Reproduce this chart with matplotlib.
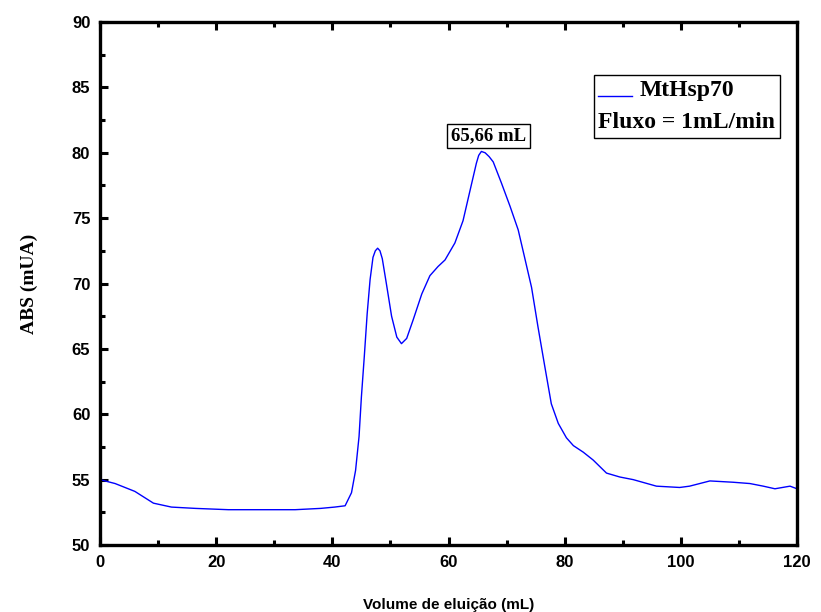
import matplotlib
matplotlib.use("Agg")
import matplotlib.pyplot as plt
from matplotlib.ticker import MultipleLocator
from matplotlib.offsetbox import AnchoredOffsetbox, TextArea, DrawingArea, HPacker, VPacker
from matplotlib.lines import Line2D

volume = [0.0, 2.6, 6.0, 9.2, 12.3, 16.4, 22.1, 27.8, 33.6, 38.0, 40.4, 42.2, 43.3, 44.0,
          44.6, 45.0, 45.5, 46.0, 46.5, 47.0, 47.4, 47.8, 48.2, 48.6, 49.3, 50.2, 51.1, 51.9,
          52.8, 53.9, 55.4, 56.8, 58.2, 59.4, 61.1, 62.5, 63.7, 64.8, 65.2, 65.66, 66.3, 67.0, 67.7,
          69.1, 70.6, 72.0, 73.1, 74.3, 75.4, 76.6, 77.7, 78.9, 80.3, 81.5, 83.2,
          84.9, 87.2, 89.5, 91.8, 95.8, 99.8, 101.5, 105.0, 109.0, 111.9, 114.2,
          116.2, 118.8, 120.0]
absorb = [55.0, 54.7, 54.1, 53.2, 52.9, 52.8, 52.7, 52.7, 52.7, 52.8, 52.9, 53.0, 54.0, 55.7,
          58.3, 61.3, 64.4, 67.7, 70.3, 72.0, 72.5, 72.7, 72.5, 71.9, 70.0, 67.5, 65.9, 65.4,
          65.8, 67.2, 69.2, 70.6, 71.3, 71.8, 73.1, 74.8, 77.1, 79.2, 79.8, 80.1, 80.0, 79.7, 79.3,
          77.7, 75.9, 74.1, 72.0, 69.7, 66.7, 63.6, 60.8, 59.3, 58.2, 57.6, 57.1,
          56.5, 55.5, 55.2, 55.0, 54.5, 54.4, 54.5, 54.9, 54.8, 54.7, 54.5,
          54.3, 54.5, 54.3]

peak_x = 65.66
peak_y = 80.1
peak_label = "65,66 mL"
series_label = "MtHsp70"
flow_label = "Fluxo = 1mL/min"

fig = plt.figure(figsize=(8.21, 6.12), dpi=100)
ax = fig.add_axes([100/821, 67/612, 697/821, 523/612])

ax.plot(volume, absorb, color="#0000ff", lw=1.0)

ax.set_xlim(0, 120)
ax.set_ylim(50, 90)
ax.xaxis.set_major_locator(MultipleLocator(20))
ax.xaxis.set_minor_locator(MultipleLocator(10))
ax.yaxis.set_major_locator(MultipleLocator(5))
ax.yaxis.set_minor_locator(MultipleLocator(2.5))
for s in ax.spines.values():
    s.set_linewidth(2.4)
ax.tick_params(which="major", direction="in", length=6, width=2.2, top=True, right=False,
               labelsize=12, pad=7)
ax.tick_params(which="minor", direction="in", length=3.5, width=2.2, top=True, right=False)
for lbl in ax.get_xticklabels() + ax.get_yticklabels():
    lbl.set_fontweight("bold")
    lbl.set_fontfamily("Liberation Sans")

ax.set_xlabel("Volume de eluição (mL)", fontsize=11, fontweight="bold",
              family="Liberation Sans", labelpad=20)
ax.set_ylabel("ABS (mUA)", fontsize=14, fontweight="bold",
              family="Liberation Serif", labelpad=24)

ax.annotate(peak_label, xy=(peak_x, peak_y), xytext=(5, 5), textcoords="offset points",
            ha="center", va="bottom", fontsize=13.5, fontweight="bold", family="Liberation Serif",
            bbox=dict(boxstyle="square,pad=0.2", fc="white", ec="black", lw=1.0))

# legend-like box
da = DrawingArea(24, 10, 0, 0)
da.add_artist(Line2D([0, 24], [0, 0], color="#0000ff", lw=1.0))
t1 = TextArea(series_label, textprops=dict(fontsize=17, fontweight="bold", family="Liberation Serif"))
t2 = TextArea(flow_label, textprops=dict(fontsize=17, fontweight="bold", family="Liberation Serif"))
row1 = HPacker(children=[da, t1], align="baseline", pad=0, sep=6)
box = VPacker(children=[row1, t2], align="left", pad=0, sep=8)
anch = AnchoredOffsetbox(loc="upper right", child=box, pad=0.35, borderpad=0,
                         bbox_to_anchor=(0.976, 0.899), bbox_transform=ax.transAxes, frameon=True)
anch.patch.set_edgecolor("black")
anch.patch.set_linewidth(1.0)
anch.patch.set_boxstyle("square", pad=0)
ax.add_artist(anch)

fig.savefig("out.png", dpi=100)
